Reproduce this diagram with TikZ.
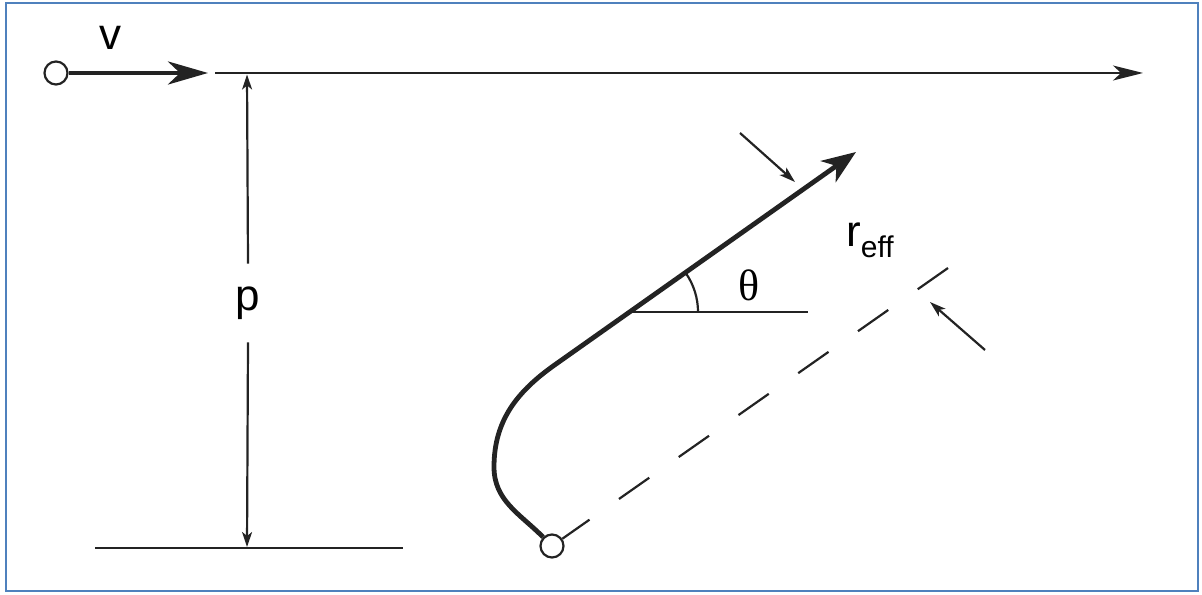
\documentclass[tikz,border=0pt]{standalone}
\usepackage{fontspec}
\setmainfont{Liberation Sans}
\newfontfamily\thetafont{Liberation Serif}
\usepackage{tikz}
\usetikzlibrary{arrows.meta}
\definecolor{frameblue}{RGB}{79,129,189}
\definecolor{ink}{RGB}{35,35,35}

\begin{document}
\begin{tikzpicture}[x=0.5pt, y=0.5pt, >=Stealth, font=\fontsize{22}{26}\selectfont,
    fine/.style={ink, line width=1.1pt},
    heavy/.style={ink, line width=2.4pt},
    ball/.style={circle, draw=ink, line width=1.1pt, fill=white, inner sep=0pt, minimum size=11.5pt},
    dimtip/.style={-{Stealth[length=7.5pt, width=5pt, inset=2pt]}},
    smalltip/.style={-{Stealth[length=8pt, width=5pt, inset=2pt]}}]
          \useasboundingbox (0,0) rectangle (1202,594);
          \draw[frameblue, line width=1.3pt] (6,3) rectangle (1198,591);
          % incoming particle
          \node[ball] (inc) at (56,521) {};
          \coordinate (vtip) at (208,521);
          \draw[heavy, -{Stealth[length=20pt, width=11.5pt, inset=6pt]}] (inc) -- (vtip);
          \node (vlbl) at (110,556) {v};
          \coordinate (axleft) at (215,521);
          \coordinate (axright) at (1143,521);
          \draw[fine, -{Stealth[length=15pt, width=7.5pt, inset=4pt]}] (axleft) -- (axright);
          % impact parameter
          \coordinate (ptop) at (247,519.5);
          \coordinate (pbot) at (247,47);
          \node[inner sep=0pt, minimum height=39pt] (plbl) at (248,291) {p};
          \draw[fine, dimtip] (plbl.north) -- (ptop);
          \draw[fine, dimtip] (plbl.south) -- (pbot);
          \coordinate (baseL) at (95,46);
          \coordinate (baseR) at (403,46);
          \draw[fine] (baseL) -- (baseR);
          % deflected path
          \node[ball] (ctr) at (552,48) {};
          \coordinate (turn) at (494,127);
          \coordinate (join) at (556,230);
          \coordinate (bend) at (630,282);
          \coordinate (tip) at (856,442);
          \draw[heavy, -{Stealth[length=17pt, width=13pt, inset=5pt]}]
            (ctr) to[out=135, in=-90] (turn) to[out=90, in=215] (join) -- (tip);
          \coordinate (hor) at (808,282);
          \draw[fine] (bend) -- (hor);
          \draw[fine] ([shift={(68,0)}]bend) arc[start angle=0, end angle=35, radius=68];
          \node (thlbl) at (749,309) {\thetafont θ};
          % effective radius
          \coordinate (dashend) at (948,326);
          \draw[fine, dash pattern=on 18.5pt off 18pt] (dashend) -- (ctr);
          \coordinate (aones) at (740,461);
          \coordinate (aonee) at (795,412);
          \draw[fine, smalltip] (aones) -- (aonee);
          \coordinate (atwos) at (985,244);
          \coordinate (atwoe) at (930,292);
          \draw[fine, smalltip] (atwos) -- (atwoe);
          \node (rlbl) at (870,354) {r\raisebox{-5.5pt}{\fontsize{15}{15}\selectfont eff}};
        \end{tikzpicture}
\end{document}
